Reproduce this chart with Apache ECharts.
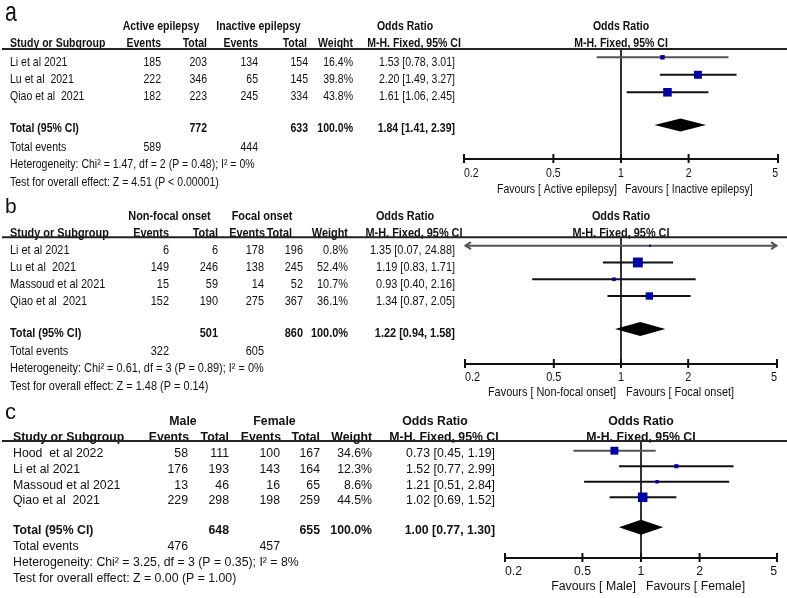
<!DOCTYPE html>
<html><head><meta charset="utf-8">
<script src="https://cdn.jsdelivr.net/npm/echarts@6/dist/echarts.min.js"></script>
<style>html,body{margin:0;padding:0;background:#fff}#c{width:787px;height:598px}</style>
</head><body><div id="c"></div>
<script>
// ---------- DATA ----------
const tickValues = [0.2, 0.5, 1, 2, 5];
const tickLabels = ['0.2', '0.5', '1', '2', '5'];
const colHeaders = ['Study or Subgroup', 'Events', 'Total', 'Events', 'Total', 'Weight', 'M-H. Fixed, 95% CI'];
const orHeader = 'Odds Ratio';

// Panel a
const aStudies = ['Li et al 2021', 'Lu et al  2021', 'Qiao et al  2021'];
const aEvents1 = [185, 222, 182];
const aTotal1 = [203, 346, 223];
const aEvents2 = [134, 65, 245];
const aTotal2 = [154, 145, 334];
const aWeight = [16.4, 39.8, 43.8];
const aOR = [1.53, 2.20, 1.61];
const aLo = [0.78, 1.49, 1.06];
const aHi = [3.01, 3.27, 2.45];
const aTotalN = [772, 633];
const aTotalEvents = [589, 444];
const aPooled = [1.84, 1.41, 2.39];
const aGroups = ['Active epilepsy', 'Inactive epilepsy'];
const aFavours = ['Favours [ Active epilepsy]', 'Favours [ Inactive epilepsy]'];
const aHet = 'Heterogeneity: Chi² = 1.47, df = 2 (P = 0.48); I² = 0%';
const aTest = 'Test for overall effect: Z = 4.51 (P < 0.00001)';

// Panel b
const bStudies = ['Li et al 2021', 'Lu et al  2021', 'Massoud et al 2021', 'Qiao et al  2021'];
const bEvents1 = [6, 149, 15, 152];
const bTotal1 = [6, 246, 59, 190];
const bEvents2 = [178, 138, 14, 275];
const bTotal2 = [196, 245, 52, 367];
const bWeight = [0.8, 52.4, 10.7, 36.1];
const bOR = [1.35, 1.19, 0.93, 1.34];
const bLo = [0.07, 0.83, 0.40, 0.87];
const bHi = [24.88, 1.71, 2.16, 2.05];
const bTotalN = [501, 860];
const bTotalEvents = [322, 605];
const bPooled = [1.22, 0.94, 1.58];
const bGroups = ['Non-focal onset', 'Focal onset'];
const bFavours = ['Favours [ Non-focal onset]', 'Favours [ Focal onset]'];
const bHet = 'Heterogeneity: Chi² = 0.61, df = 3 (P = 0.89); I² = 0%';
const bTest = 'Test for overall effect: Z = 1.48 (P = 0.14)';

// Panel c
const cStudies = ['Hood  et al 2022', 'Li et al 2021', 'Massoud et al 2021', 'Qiao et al  2021'];
const cEvents1 = [58, 176, 13, 229];
const cTotal1 = [111, 193, 46, 298];
const cEvents2 = [100, 143, 16, 198];
const cTotal2 = [167, 164, 65, 259];
const cWeight = [34.6, 12.3, 8.6, 44.5];
const cOR = [0.73, 1.52, 1.21, 1.02];
const cLo = [0.45, 0.77, 0.51, 0.69];
const cHi = [1.19, 2.99, 2.84, 1.52];
const cTotalN = [648, 655];
const cTotalEvents = [476, 457];
const cPooled = [1.00, 0.77, 1.30];
const cGroups = ['Male', 'Female'];
const cFavours = ['Favours [ Male]', 'Favours [ Female]'];
const cHet = 'Heterogeneity: Chi² = 3.25, df = 3 (P = 0.35); I² = 8%';
const cTest = 'Test for overall effect: Z = 0.00 (P = 1.00)';

// ---------- LAYOUT ----------
const AX_MIN = 0.2, AX_MAX = 5;
const FONT = 'Liberation Sans, Arial, Helvetica, sans-serif';
const TXT = '#111';
const BLUE = '#0000a8';

const panels = [
  { letter: 'a', letterSize: 28, letterSx: 0.76, letterY: 13,
    d: { studies: aStudies, ev1: aEvents1, tot1: aTotal1, ev2: aEvents2, tot2: aTotal2, w: aWeight, or: aOR, lo: aLo, hi: aHi,
         totN: aTotalN, totEv: aTotalEvents, pooled: aPooled, groups: aGroups, fav: aFavours, het: aHet, test: aTest },
    font: 13, sx: 0.81,
    groupY: 26, headY: 43, lineY: 49, row0: 62, rowH: 17, totalY: 128, eventsY: 147, hetY: 164, testY: 182,
    studyX: 10, valCols: [161, 207, 258, 308, 353, 455], headCols: [161, 207, 258, 307, 353], mhX: 414, orX: 405,
    groupCx: [161, 258.5],
    gridL: 464, gridR: 778, axisY: 159, pRow0: 57.3, pRowH: 17.5, pTotal: 125, tickLblDy: 14, favY: 189, favGap: 4,
    sqBase: 2, sqK: 0.15, dH: 6.5 },
  { letter: 'b', letterSize: 21, letterSx: 1, letterY: 207,
    d: { studies: bStudies, ev1: bEvents1, tot1: bTotal1, ev2: bEvents2, tot2: bTotal2, w: bWeight, or: bOR, lo: bLo, hi: bHi,
         totN: bTotalN, totEv: bTotalEvents, pooled: bPooled, groups: bGroups, fav: bFavours, het: bHet, test: bTest },
    font: 13, sx: 0.84,
    groupY: 216, headY: 233, lineY: 237.3, row0: 250, rowH: 17, totalY: 333, eventsY: 351, hetY: 368, testY: 386,
    studyX: 10, valCols: [169, 218, 264, 303, 348, 455], headCols: [169, 218, 265, 292, 348], mhX: 414, orX: 405,
    groupCx: [169.5, 262],
    gridL: 465, gridR: 777, axisY: 364, pRow0: 245.7, pRowH: 16.77, pTotal: 329, tickLblDy: 13, favY: 392, favGap: 5,
    sqBase: 2, sqK: 0.15, dH: 7 },
  { letter: 'c', letterSize: 22, letterSx: 1, letterY: 413,
    d: { studies: cStudies, ev1: cEvents1, tot1: cTotal1, ev2: cEvents2, tot2: cTotal2, w: cWeight, or: cOR, lo: cLo, hi: cHi,
         totN: cTotalN, totEv: cTotalEvents, pooled: cPooled, groups: cGroups, fav: cFavours, het: cHet, test: cTest },
    font: 12.3, sx: 1,
    groupY: 422, headY: 438, lineY: 441, row0: 454, rowH: 15.7, totalY: 531, eventsY: 547, hetY: 563, testY: 579,
    studyX: 13, valCols: [188, 229, 280, 320, 372, 495], headCols: [189, 229, 281, 320, 372], mhX: 444, orX: 435,
    groupCx: [183, 274.5],
    gridL: 505, gridR: 777, axisY: 558, pRow0: 450.7, pRowH: 15.53, pTotal: 527.3, tickLblDy: 14, favY: 587, favGap: 5,
    sqBase: 2, sqK: 0.17, dH: 7.5 }
];

// ---------- BUILD ----------
function fmtCI(o, l, h) { return o.toFixed(2) + ' [' + l.toFixed(2) + ', ' + h.toFixed(2) + ']'; }

function T(x, y, text, P, o) {
  o = o || {};
  const al = o.align || 'left';
  return {
    type: 'text', x: x, y: y, scaleX: (o.sx !== undefined ? o.sx : P.sx), silent: true,
    style: {
      text: text, fontFamily: FONT, fontSize: o.size || P.font, fontWeight: o.bold ? 'bold' : 'normal',
      fill: TXT, align: al, textAlign: al, verticalAlign: 'middle', textVerticalAlign: 'middle'
    }
  };
}

const graphics = [];
const grids = [], xAxes = [], yAxes = [], series = [];

panels.forEach(function (P, pi) {
  const d = P.d;
  graphics.push(T(5, P.letterY, P.letter, P, { size: P.letterSize, sx: P.letterSx }));
  graphics.push(T(P.groupCx[0], P.groupY, d.groups[0], P, { bold: true, align: 'center' }));
  graphics.push(T(P.groupCx[1], P.groupY, d.groups[1], P, { bold: true, align: 'center' }));
  graphics.push(T(P.orX, P.groupY, orHeader, P, { bold: true, align: 'center' }));
  const plotCx = (P.gridL + P.gridR) / 2;
  graphics.push(T(plotCx, P.groupY, orHeader, P, { bold: true, align: 'center' }));
  graphics.push(T(P.studyX, P.headY, colHeaders[0], P, { bold: true }));
  for (let k = 0; k < 5; k++) graphics.push(T(P.headCols[k], P.headY, colHeaders[k + 1], P, { bold: true, align: 'right' }));
  graphics.push(T(P.mhX, P.headY, colHeaders[6], P, { bold: true, align: 'center' }));
  graphics.push(T(plotCx, P.headY, colHeaders[6], P, { bold: true, align: 'center' }));
  graphics.push({ type: 'line', silent: true, shape: { x1: 2, y1: P.lineY, x2: 787, y2: P.lineY }, style: { stroke: '#222', lineWidth: 2 } });
  d.studies.forEach(function (s, i) {
    const y = P.row0 + i * P.rowH;
    graphics.push(T(P.studyX, y, s, P));
    const vals = [String(d.ev1[i]), String(d.tot1[i]), String(d.ev2[i]), String(d.tot2[i]), d.w[i].toFixed(1) + '%', fmtCI(d.or[i], d.lo[i], d.hi[i])];
    vals.forEach(function (v, k) { graphics.push(T(P.valCols[k], y, v, P, { align: 'right' })); });
  });
  graphics.push(T(P.studyX, P.totalY, 'Total (95% CI)', P, { bold: true }));
  graphics.push(T(P.valCols[1], P.totalY, String(d.totN[0]), P, { bold: true, align: 'right' }));
  graphics.push(T(P.valCols[3], P.totalY, String(d.totN[1]), P, { bold: true, align: 'right' }));
  graphics.push(T(P.valCols[4], P.totalY, '100.0%', P, { bold: true, align: 'right' }));
  graphics.push(T(P.valCols[5], P.totalY, fmtCI(d.pooled[0], d.pooled[1], d.pooled[2]), P, { bold: true, align: 'right' }));
  graphics.push(T(P.studyX, P.eventsY, 'Total events', P));
  graphics.push(T(P.valCols[0], P.eventsY, String(d.totEv[0]), P, { align: 'right' }));
  graphics.push(T(P.valCols[2], P.eventsY, String(d.totEv[1]), P, { align: 'right' }));
  graphics.push(T(P.studyX, P.hetY, d.het, P));
  graphics.push(T(P.studyX, P.testY, d.test, P));
  graphics.push(T(plotCx - P.favGap, P.favY, d.fav[0], P, { align: 'right' }));
  graphics.push(T(plotCx + P.favGap, P.favY, d.fav[1], P, { align: 'left' }));

  const yMin = -(P.pRow0 - P.lineY) / P.pRowH;
  const yMax = (P.axisY - P.pRow0) / P.pRowH;
  const totalIdx = (P.pTotal - P.pRow0) / P.pRowH;
  grids.push({ left: P.gridL, width: P.gridR - P.gridL, top: P.lineY, height: P.axisY - P.lineY, containLabel: false, outerBoundsMode: 'none' });
  xAxes.push({ type: 'log', logBase: 10, min: AX_MIN, max: AX_MAX, gridIndex: pi,
    axisLine: { show: true, onZero: false, lineStyle: { color: '#111', width: 2 } },
    axisTick: { show: false }, axisLabel: { show: false }, splitLine: { show: false } });
  yAxes.push({ type: 'value', inverse: true, min: yMin, max: yMax, gridIndex: pi, show: false });

  series.push({
    type: 'custom', xAxisIndex: pi, yAxisIndex: pi, clip: false, silent: true,
    data: [[1, 0]], encode: { x: 0, y: 1 },
    renderItem: function (params, api) {
      const cs = params.coordSys;
      const x = api.coord([api.value(0), 0])[0];
      return { type: 'line', shape: { x1: x, y1: cs.y, x2: x, y2: cs.y + cs.height }, style: { stroke: '#333', lineWidth: 2 } };
    }
  });
  series.push({
    type: 'custom', xAxisIndex: pi, yAxisIndex: pi, clip: false, silent: true,
    data: tickValues.map(function (v) { return [v, 0]; }), encode: { x: 0, y: 1 },
    renderItem: function (params, api) {
      const cs = params.coordSys;
      const x = api.coord([api.value(0), 0])[0];
      const y = cs.y + cs.height;
      const n = tickValues.length, i = params.dataIndex;
      const al = i === 0 ? 'left' : (i === n - 1 ? 'right' : 'center');
      return { type: 'group', children: [
        { type: 'line', shape: { x1: x, y1: y - 5, x2: x, y2: y + 4 }, style: { stroke: '#111', lineWidth: 2 } },
        { type: 'text', x: x, y: y + P.tickLblDy, scaleX: P.sx, style: { text: tickLabels[i], fontFamily: FONT, fontSize: P.font, fill: TXT,
          align: al, textAlign: al, verticalAlign: 'middle', textVerticalAlign: 'middle' } }
      ] };
    }
  });
  series.push({
    type: 'custom', xAxisIndex: pi, yAxisIndex: pi, clip: false, silent: true,
    data: d.or.map(function (o, i) { return [o, d.lo[i], d.hi[i], d.w[i], i]; }),
    dimensions: ['or', 'lo', 'hi', 'w', 'row'], encode: { x: [0, 1, 2], y: 4 },
    renderItem: function (params, api) {
      const o = api.value(0), lo = api.value(1), hi = api.value(2), w = api.value(3), row = api.value(4);
      const p = api.coord([o, row]);
      const y = p[1];
      const xl = api.coord([Math.max(lo, AX_MIN), row])[0];
      const xr = api.coord([Math.min(hi, AX_MAX), row])[0];
      const col = row === 0 ? '#555' : '#111';
      const ch = [{ type: 'line', shape: { x1: xl, y1: y, x2: xr, y2: y }, style: { stroke: col, lineWidth: 2 } }];
      if (lo < AX_MIN) ch.push({ type: 'polyline', shape: { points: [[xl + 6, y - 3.5], [xl + 0.5, y], [xl + 6, y + 3.5]] }, style: { stroke: col, lineWidth: 2, fill: null } });
      if (hi > AX_MAX) ch.push({ type: 'polyline', shape: { points: [[xr - 6, y - 3.5], [xr - 0.5, y], [xr - 6, y + 3.5]] }, style: { stroke: col, lineWidth: 2, fill: null } });
      const s = P.sqBase + P.sqK * w;
      ch.push({ type: 'rect', shape: { x: p[0] - s / 2, y: y - s / 2, width: s, height: s }, style: { fill: BLUE } });
      return { type: 'group', children: ch };
    }
  });
  series.push({
    type: 'custom', xAxisIndex: pi, yAxisIndex: pi, clip: false, silent: true,
    data: [[d.pooled[0], d.pooled[1], d.pooled[2], totalIdx]], encode: { x: [0, 1, 2], y: 3 },
    renderItem: function (params, api) {
      const r = api.value(3);
      const c = api.coord([api.value(0), r]);
      const l = api.coord([api.value(1), r]);
      const h = api.coord([api.value(2), r]);
      return { type: 'polygon', shape: { points: [[l[0], c[1]], [c[0], c[1] - P.dH], [h[0], c[1]], [c[0], c[1] + P.dH]] }, style: { fill: '#000' } };
    }
  });
});

const chart = echarts.init(document.getElementById('c'), null, { renderer: 'canvas' });
chart.setOption({
  backgroundColor: '#fff',
  animation: false,
  grid: grids, xAxis: xAxes, yAxis: yAxes, series: series,
  graphic: { elements: graphics }
});
</script>
</body></html>
